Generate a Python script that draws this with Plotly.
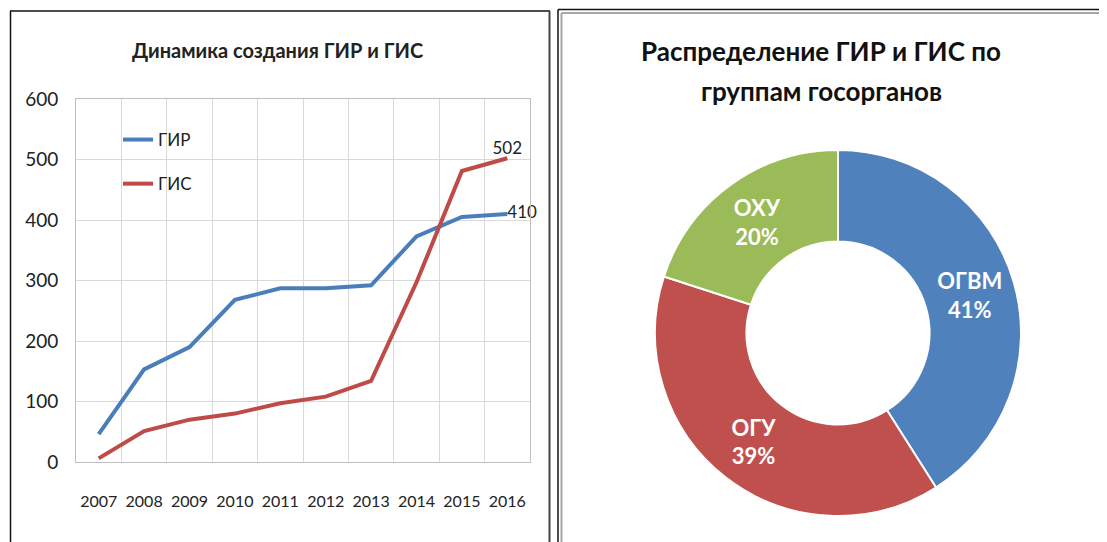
import plotly.graph_objects as go

# ---- data ----
years = ["2007", "2008", "2009", "2010", "2011", "2012", "2013", "2014", "2015", "2016"]
gir = [46, 153, 190, 268, 287, 287, 292, 373, 405, 410]
gis = [6, 51, 70, 80, 97, 108, 134, 297, 481, 502]
groups = ["ОГВМ", "ОГУ", "ОХУ"]
shares = [41, 39, 20]

W, H = 1107, 542
OFF = 8  # page body margin
BLUE = "#4A7EBB"
RED = "#BE4B48"
FONT = "Lato"

def px(x):
    return (x - OFF) / W

def py(y):
    return 1 - (y - OFF) / H

x_idx = list(range(len(years)))

fig = go.Figure()

fig.add_trace(go.Scatter(
    x=x_idx, y=gir, name="ГИР", mode="lines+text",
    line=dict(color=BLUE, width=4),
    text=[""] * (len(gir) - 1) + [str(gir[-1])],
    textposition="middle right",
    textfont=dict(family=FONT, size=17, color="#222"),
    legendgroup="a", cliponaxis=False,
))
fig.add_trace(go.Scatter(
    x=x_idx, y=gis, name="ГИС", mode="lines+text",
    line=dict(color=RED, width=4),
    text=[""] * (len(gis) - 1) + [str(gis[-1])],
    textposition="top center",
    textfont=dict(family=FONT, size=17, color="#222"),
    legendgroup="b", cliponaxis=False,
))

fig.add_trace(go.Pie(
    labels=groups, values=shares, sort=False, direction="clockwise", rotation=0,
    hole=0.5,
    marker=dict(colors=["#4F81BD", "#C0504D", "#9BBB59"], line=dict(color="white", width=2)),
    textinfo="label+percent", texttemplate="%{label}<br>%{percent:.0%}",
    textposition="inside", insidetextorientation="horizontal",
    textfont=dict(family=FONT, size=22, color="white", weight="bold"),
    domain=dict(x=[px(655), px(1021)], y=[py(520), py(146)]),
    showlegend=False,
))

grid_c = "#D9D9D9"
fig.update_layout(
    width=W, height=H,
    margin=dict(l=0, r=0, t=0, b=0, pad=0),
    paper_bgcolor="white", plot_bgcolor="white",
    font=dict(family=FONT, size=18, color="#222"),
    xaxis=dict(
        domain=[px(76), px(530)], range=[-0.5, 9.5], automargin=False,
        tickvals=x_idx, ticktext=years, tickangle=0,
        showgrid=False, zeroline=False,
        showline=True, linecolor="#BFBFBF", linewidth=1, mirror=True,
        ticks="outside", ticklen=25, tickcolor="rgba(0,0,0,0)",
        tickfont=dict(family=FONT, size=16, color="#222"),
        minor=dict(tickvals=[i - 0.5 for i in range(len(years) + 1)], showgrid=True,
                   gridcolor=grid_c, gridwidth=1, ticks=""),
        fixedrange=True,
    ),
    yaxis=dict(
        domain=[py(462), py(99)], range=[0, 600], dtick=100, automargin=False,
        showgrid=True, gridcolor=grid_c, gridwidth=1, zeroline=False,
        showline=True, linecolor="#BFBFBF", linewidth=1, mirror=True,
        ticks="outside", ticklen=13, tickcolor="rgba(0,0,0,0)",
        tickfont=dict(family=FONT, size=19, color="#222"),
        fixedrange=True,
    ),
    legend=dict(
        x=px(118), y=py(122), xanchor="left", yanchor="top",
        bgcolor="rgba(0,0,0,0)", font=dict(family=FONT, size=17, color="#222"),
        tracegroupgap=19, traceorder="grouped", itemwidth=30,
    ),
    annotations=[
        dict(text="<b>Динамика создания ГИР и ГИС</b>", x=px(277), y=py(50),
             xref="paper", yref="paper", showarrow=False, xanchor="center", yanchor="middle",
             font=dict(family=FONT, size=20, color="#222")),
        dict(text="<b>Распределение ГИР и ГИС по</b>", x=px(821), y=py(51),
             xref="paper", yref="paper", showarrow=False, xanchor="center", yanchor="middle",
             font=dict(family=FONT, size=26, color="#111")),
        dict(text="<b>группам госорганов</b>", x=px(821), y=py(91),
             xref="paper", yref="paper", showarrow=False, xanchor="center", yanchor="middle",
             font=dict(family=FONT, size=26, color="#111")),
    ],
    shapes=[
        # left panel frame
        dict(type="line", xref="paper", yref="paper", x0=px(10), x1=px(550), y0=py(11), y1=py(11),
             line=dict(color="#111", width=1.5)),
        dict(type="line", xref="paper", yref="paper", x0=px(10.5), x1=px(10.5), y0=py(11), y1=py(560),
             line=dict(color="#111", width=1.5)),
        dict(type="line", xref="paper", yref="paper", x0=px(549.5), x1=px(549.5), y0=py(11), y1=py(560),
             line=dict(color="#444", width=2)),
        # right panel frame
        dict(type="line", xref="paper", yref="paper", x0=px(558), x1=px(1120), y0=py(9.5), y1=py(9.5),
             line=dict(color="#111", width=1.5)),
        dict(type="line", xref="paper", yref="paper", x0=px(558), x1=px(558), y0=py(9.5), y1=py(560),
             line=dict(color="#111", width=1.5)),
        dict(type="line", xref="paper", yref="paper", x0=px(561.5), x1=px(1120), y0=py(13), y1=py(13),
             line=dict(color="#A6A6A6", width=2)),
        dict(type="line", xref="paper", yref="paper", x0=px(561.5), x1=px(561.5), y0=py(13), y1=py(560),
             line=dict(color="#A6A6A6", width=2)),
    ],
)

fig.write_html("out.html")
